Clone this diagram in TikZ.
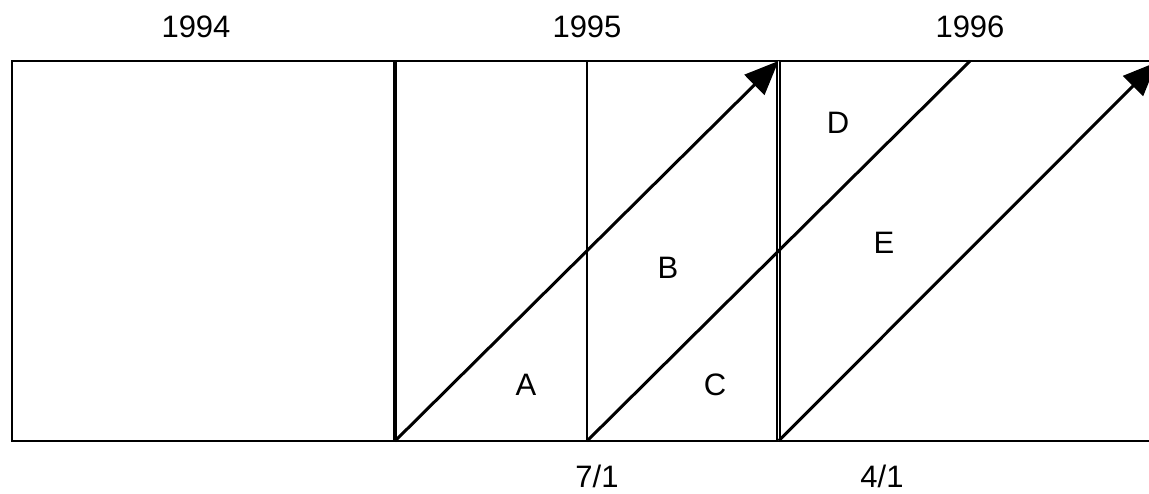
\documentclass[tikz,border=0pt]{standalone}
\usepackage{fontspec}
\setmainfont{Liberation Sans}
\usetikzlibrary{arrows.meta}

\begin{document}
\begin{tikzpicture}[x=1pt,y=-1pt,font=\fontsize{31}{36}\selectfont,
  every node/.style={inner sep=0pt},
  edge/.style={line width=2.5pt},
  slant/.style={line width=3pt},
  tip/.style={-{Triangle[length=34pt,width=28pt]}}]
\useasboundingbox (0,0) rectangle (1149,493);
\clip (0,0) rectangle (1149,493);
% frame corners and year borders
\coordinate (tl) at (12,61);
\coordinate (bl) at (12,441);
\coordinate (tr) at (1152,61);
\coordinate (br) at (1152,441);
\coordinate (t95) at (395,61);
\coordinate (b95) at (395,441);
\coordinate (tjul) at (587,61);
\coordinate (bjul) at (587,441);
\coordinate (t96) at (778.5,61);
\coordinate (b96) at (778.5,441);
\coordinate (tslant) at (970,61);
\coordinate (tend) at (1157,62);
% labels
\node (y94) at (196,27) {1994};
\node (y95) at (587,27) {1995};
\node (y96) at (970,27) {1996};
\node (A) at (526,385) {A};
\node (B) at (668,268) {B};
\node (C) at (715,385) {C};
\node (D) at (838,123) {D};
\node (E) at (884,243) {E};
\node (jul) at (597,476) {7/1};
\node (apr) at (882,476) {4/1};
% frame
\draw[edge] (tr) -- (tl) -- (bl) -- (br);
\draw[line width=4.5pt] (t95) -- (b95);
\draw[line width=2pt] (tjul) -- (bjul);
\draw[line width=2pt,double,double distance=1pt] (t96) -- (b96);
% periods
\draw[slant,tip] (b95) -- (t96);
\draw[slant] (bjul) -- (tslant);
\draw[slant,tip] (b96) -- (tend);
\end{tikzpicture}
\end{document}
